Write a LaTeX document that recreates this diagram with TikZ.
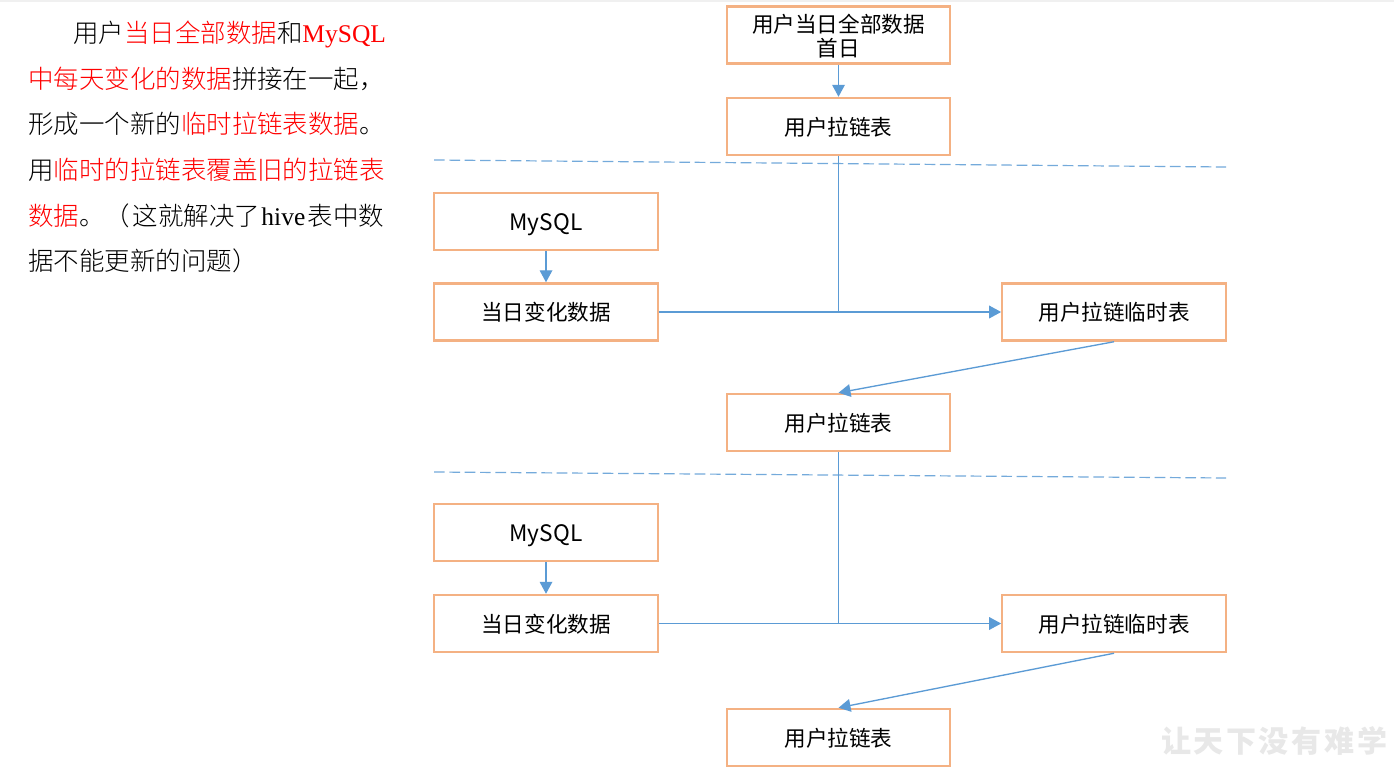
\documentclass[tikz,border=0pt]{standalone}
\usepackage{fontspec}
\usetikzlibrary{arrows.meta,calc}
\setmainfont{Liberation Serif}
\newfontfamily\cjk{Noto Sans CJK SC}
\newfontfamily\cjkl{Noto Sans CJK SC Light}
\definecolor{boxorange}{RGB}{244,177,131}
\definecolor{linkblue}{RGB}{91,155,213}
\definecolor{wmgray}{RGB}{232,232,232}
\newcommand{\rd}[1]{\textcolor{red}{#1}}
\newcommand{\lowline}[1]{\raisebox{-6.6pt}[0pt][0pt]{#1}}
\newcommand{\myword}{\lowline{\fontsize{17}{19}\selectfont MySQL}}
\tikzset{
  x=0.75pt,y=-0.75pt,
  flowbox/.style={draw=boxorange,line width=1.7pt,fill=white,minimum width=167.6pt,minimum height=42.9pt,inner sep=0pt,align=center,font=\cjk\fontsize{16.2}{18.6}\selectfont,text=black},
  link/.style={draw=linkblue,line width=1pt},
  arrowlink/.style={link,-{Triangle[length=9pt,width=9.5pt]}},
  sepline/.style={draw=linkblue!85,line width=0.9pt,dash pattern=on 8pt off 3.5pt},
  para/.style={anchor=base west,inner sep=0pt,font=\cjkl\fontsize{19.1}{22}\selectfont,text=black},
  wmark/.style={inner sep=0pt,text=wmgray,font=\cjk\bfseries\fontsize{22.5}{25}\selectfont}
}
\begin{document}
\begin{tikzpicture}
\useasboundingbox (0,0) rectangle (1394,782);
\fill[white] (0,0) rectangle (1394,782);
\fill[black!6] (0,0) rectangle (1394,2);
% paragraph
\node[para] (p1) at (73,42) {用户\rd{当日全部数据}和\rd{{\fontspec{Liberation Serif}MySQL}}};
\node[para] (p2) at (28,88) {\rd{中每天变化的数据}拼接在一起，};
\node[para] (p3) at (28,133) {形成一个新的\rd{临时拉链表数据}。};
\node[para] (p4) at (28,179) {用\rd{临时的拉链表覆盖旧的拉链表}};
\node[para] (p5) at (28,225) {\rd{数据}。（\hspace{2pt}这就解决了\hspace{1pt}{\fontspec{Liberation Serif}hive}\hspace{2pt}表中数};
\node[para] (p6) at (28,270) {据不能更新的问题）};
% boxes
\node[flowbox] (first) at (838.5,35) {\rule{0pt}{15.6pt}用户当日全部数据\\首日};
\node[flowbox] (zip1) at (838.5,126.5) {\lowline{用户拉链表}};
\node[flowbox] (my1) at (546,221.5) {\myword};
\node[flowbox] (chg1) at (546,312) {\lowline{当日变化数据}};
\node[flowbox] (tmp1) at (1114,312) {\lowline{用户拉链临时表}};
\node[flowbox] (zip2) at (838.5,422.5) {\lowline{用户拉链表}};
\node[flowbox] (my2) at (546,532.5) {\myword};
\node[flowbox] (chg2) at (546,623.5) {\lowline{当日变化数据}};
\node[flowbox] (tmp2) at (1114,623.5) {\lowline{用户拉链临时表}};
\node[flowbox] (zip3) at (838.5,737.5) {\lowline{用户拉链表}};
% separators
\coordinate (s1a) at (434,160); \coordinate (s1b) at (1226,167);
\coordinate (s2a) at (434,472); \coordinate (s2b) at (1226,478);
\draw[sepline] (s1a) -- (s1b);
\draw[sepline] (s2a) -- (s2b);
% connectors
\draw[arrowlink] (first) -- (zip1);
\draw[arrowlink] (my1) -- (chg1);
\draw[arrowlink] (chg1) -- (tmp1);
\draw[link] (zip1.south) -- (zip1.south |- chg1.east);
\draw[arrowlink] (tmp1.south) -- (zip2.north);
\draw[arrowlink] (my2) -- (chg2);
\draw[arrowlink] (chg2) -- (tmp2);
\draw[link] (zip2.south) -- (zip2.south |- chg2.east);
\draw[arrowlink] (tmp2.south) -- (zip3.north);
% watermark
\node[wmark] (w) at (1274,741) {让\hspace{2pt}天\hspace{2pt}下\hspace{2pt}没\hspace{2pt}有\hspace{2pt}难\hspace{2pt}学};
\end{tikzpicture}
\end{document}
